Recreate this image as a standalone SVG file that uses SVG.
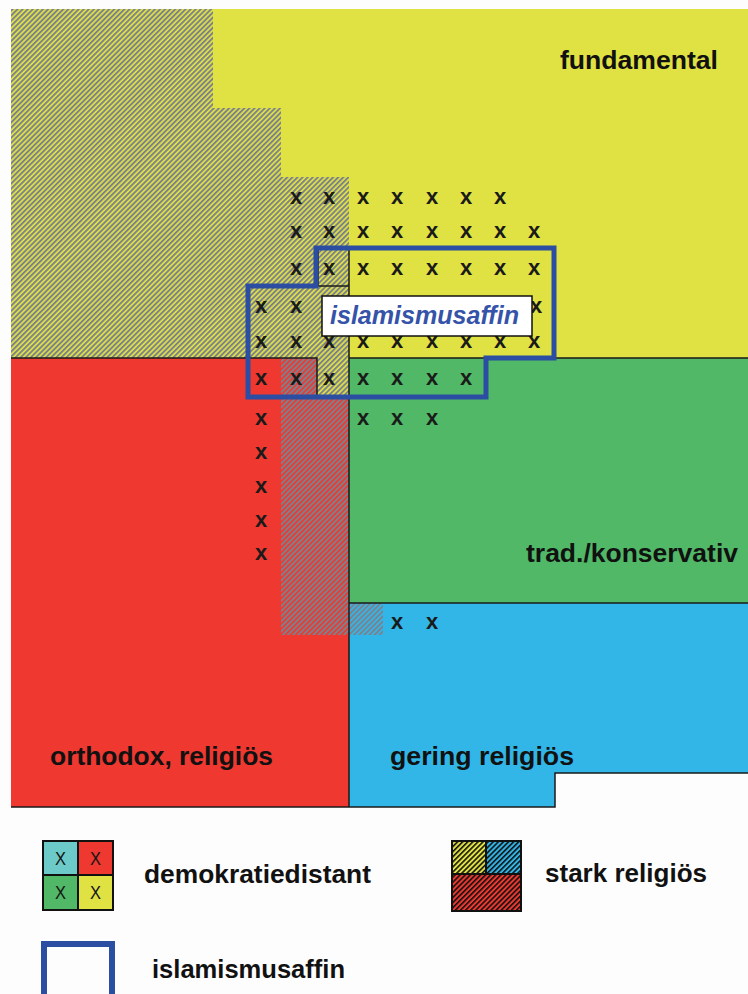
<svg xmlns="http://www.w3.org/2000/svg" width="748" height="994" viewBox="0 0 748 994">
<defs>
<style>
.lbl{font-family:"Liberation Sans",Arial,sans-serif;font-weight:bold;font-size:26px;fill:#111}
.x{font-family:"Liberation Sans",Arial,sans-serif;font-size:22px;font-weight:bold;fill:#1a1a1a;text-anchor:middle}
.lx{font-family:"Liberation Sans",Arial,sans-serif;font-size:19px;fill:#151515;text-anchor:middle}
.bd{stroke:#1a1a1a;stroke-width:1.5;fill:none}
</style>
<pattern id="hatch" patternUnits="userSpaceOnUse" width="3.6" height="3.6" patternTransform="rotate(45)">
<rect x="0" y="0" width="1.9" height="3.6" fill="#7b818d"/>
</pattern>
<pattern id="hatchK" patternUnits="userSpaceOnUse" width="3.6" height="3.6" patternTransform="rotate(45)">
<rect x="0" y="0" width="1.6" height="3.6" fill="#111"/>
</pattern>
</defs>
<rect width="748" height="994" fill="#fdfdfd"/>

<g id="fundamental">
<rect x="11" y="9" width="737" height="349" fill="#e0e142"/>
<text class="lbl" x="560" y="69" textLength="158" lengthAdjust="spacingAndGlyphs">fundamental</text>
</g>
<g id="orthodox">
<rect x="11" y="358" width="338" height="449" fill="#ee3830"/>
<rect x="317" y="358" width="32" height="38" fill="#e0e142"/>
<text class="lbl" x="50" y="765" textLength="223" lengthAdjust="spacingAndGlyphs">orthodox, religiös</text>
</g>
<g id="trad">
<rect x="349" y="358" width="399" height="245" fill="#50b866"/>
<text class="lbl" x="526" y="562" textLength="212" lengthAdjust="spacingAndGlyphs">trad./konservativ</text>
</g>
<g id="gering">
<path d="M349,603 H748 V773 H555 V807 H349 Z" fill="#32b6e8"/>
<text class="lbl" x="390" y="765" textLength="184" lengthAdjust="spacingAndGlyphs">gering religiös</text>
</g>

<g id="stark-religioes-hatch">
<path d="M11,9 H213 V108 H281 V177 H349 V358 H11 Z M281,358 H349 V635 H281 Z M349,603 H383 V635 H349 Z" fill="url(#hatch)"/>
</g>

<g id="borders">
<path class="bd" d="M11,358 H317 V395 M318,250 V286 H349 M349,248 V807 M349,358 H748 M349,603 H748 M11,807 H555 V773 H748"/>
</g>

<g id="demokratiedistant-marks">
<text class="x" x="296" y="204">x</text><text class="x" x="329" y="204">x</text><text class="x" x="363" y="204">x</text><text class="x" x="397" y="204">x</text><text class="x" x="432" y="204">x</text><text class="x" x="466" y="204">x</text><text class="x" x="500" y="204">x</text>
<text class="x" x="296" y="238">x</text><text class="x" x="329" y="238">x</text><text class="x" x="363" y="238">x</text><text class="x" x="397" y="238">x</text><text class="x" x="432" y="238">x</text><text class="x" x="466" y="238">x</text><text class="x" x="500" y="238">x</text><text class="x" x="534" y="238">x</text>
<text class="x" x="296" y="275">x</text><text class="x" x="329" y="275">x</text><text class="x" x="363" y="275">x</text><text class="x" x="397" y="275">x</text><text class="x" x="432" y="275">x</text><text class="x" x="466" y="275">x</text><text class="x" x="500" y="275">x</text><text class="x" x="534" y="275">x</text>
<text class="x" x="261" y="313">x</text><text class="x" x="296" y="313">x</text><text class="x" x="536" y="313">x</text>
<text class="x" x="261" y="348">x</text><text class="x" x="296" y="348">x</text><text class="x" x="329" y="348">x</text><text class="x" x="363" y="348">x</text><text class="x" x="397" y="348">x</text><text class="x" x="432" y="348">x</text><text class="x" x="466" y="348">x</text><text class="x" x="500" y="348">x</text><text class="x" x="534" y="348">x</text>
<text class="x" x="261" y="385">x</text><text class="x" x="296" y="385">x</text><text class="x" x="329" y="385">x</text><text class="x" x="363" y="385">x</text><text class="x" x="397" y="385">x</text><text class="x" x="432" y="385">x</text><text class="x" x="466" y="385">x</text>
<text class="x" x="261" y="425">x</text><text class="x" x="363" y="425">x</text><text class="x" x="397" y="425">x</text><text class="x" x="432" y="425">x</text>
<text class="x" x="261" y="459">x</text>
<text class="x" x="261" y="493">x</text>
<text class="x" x="261" y="527">x</text>
<text class="x" x="261" y="560">x</text>
<text class="x" x="397" y="629">x</text><text class="x" x="432" y="629">x</text>
</g>

<g id="islamismusaffin">
<path d="M316,248 H554 V358 H486 V397 H248 V286 H316 Z" fill="none" stroke="#2b4ea2" stroke-width="5"/>
<rect x="322" y="296" width="210" height="40" fill="#fff" stroke="#111" stroke-width="1.5"/>
<text x="330" y="324" font-family="Liberation Sans, Arial, sans-serif" font-weight="bold" font-style="italic" font-size="25" fill="#3553a8" textLength="189" lengthAdjust="spacingAndGlyphs">islamismusaffin</text>
</g>

<g id="legend-demokratiedistant">
<rect x="43" y="841" width="35" height="34" fill="#6ccbc8"/>
<rect x="78" y="841" width="35" height="34" fill="#ee3830"/>
<rect x="43" y="875" width="35" height="35" fill="#50b866"/>
<rect x="78" y="875" width="35" height="35" fill="#e0e142"/>
<path d="M43,841 H113 V910 H43 Z M78,841 V910 M43,875 H113" fill="none" stroke="#111" stroke-width="2"/>
<text class="lx" x="60.5" y="865" textLength="11" lengthAdjust="spacingAndGlyphs">X</text>
<text class="lx" x="95.5" y="865" textLength="11" lengthAdjust="spacingAndGlyphs">X</text>
<text class="lx" x="60.5" y="899" textLength="11" lengthAdjust="spacingAndGlyphs">X</text>
<text class="lx" x="95.5" y="899" textLength="11" lengthAdjust="spacingAndGlyphs">X</text>
<text class="lbl" x="144" y="883" textLength="227" lengthAdjust="spacingAndGlyphs">demokratiedistant</text>
</g>

<g id="legend-stark-religioes">
<rect x="452" y="841" width="34" height="33" fill="#e0e142"/>
<rect x="486" y="841" width="35" height="33" fill="#32b6e8"/>
<rect x="452" y="874" width="69" height="37" fill="#ee3830"/>
<rect x="452" y="841" width="69" height="70" fill="url(#hatchK)"/>
<path d="M452,841 H521 V911 H452 Z M486,841 V874 M452,874 H521" fill="none" stroke="#111" stroke-width="2"/>
<text class="lbl" x="545" y="882" textLength="162" lengthAdjust="spacingAndGlyphs">stark religiös</text>
</g>

<g id="legend-islamismusaffin">
<rect x="44" y="944" width="68" height="70" fill="none" stroke="#2b4ea2" stroke-width="6"/>
<text class="lbl" x="152" y="978" textLength="193" lengthAdjust="spacingAndGlyphs">islamismusaffin</text>
</g>

<g id="connectors"/>
</svg>
